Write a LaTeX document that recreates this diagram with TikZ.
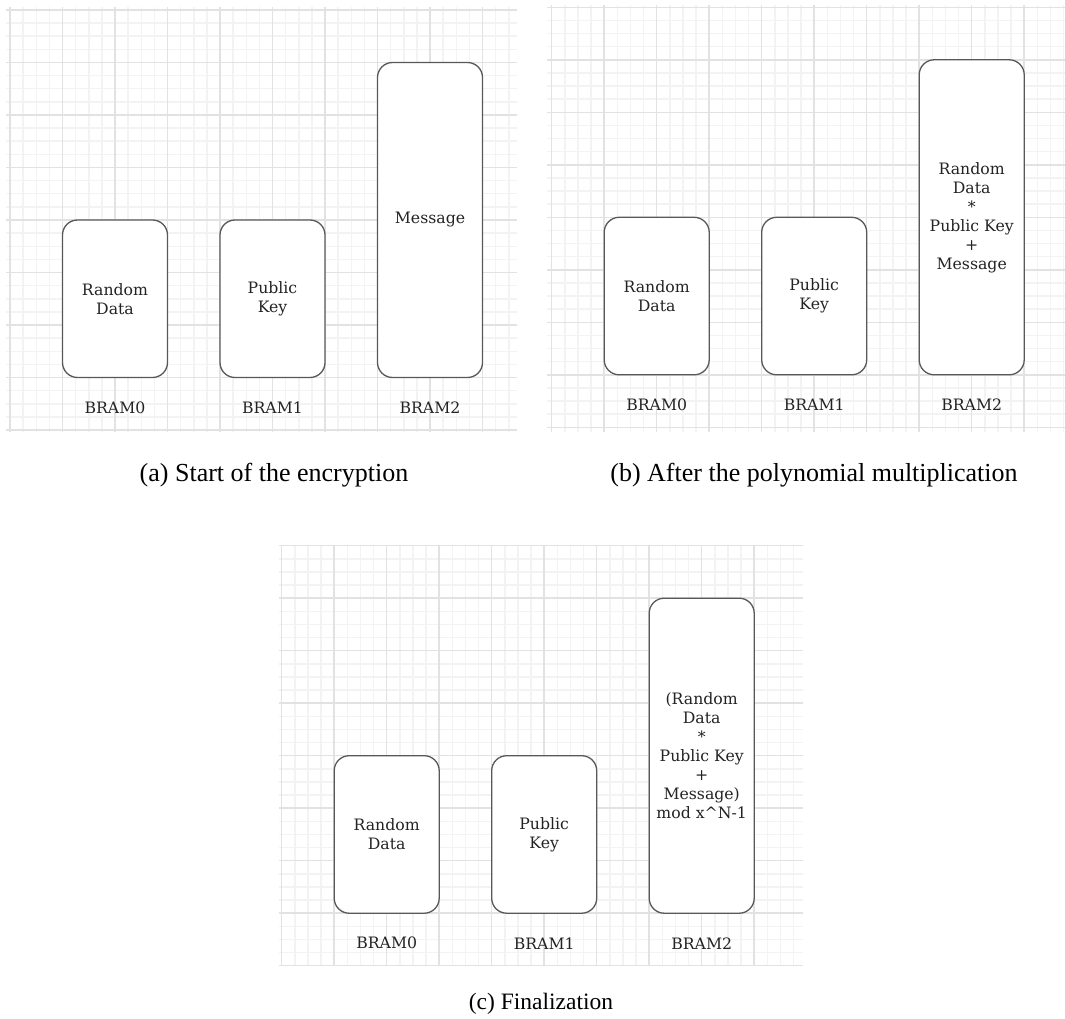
\documentclass[tikz,border=0pt]{standalone}
\usepackage{fontspec}
\setmainfont{Liberation Serif}
\newfontfamily\ramfont{DejaVu Serif}
\definecolor{gridMajor}{RGB}{226,226,226}
\definecolor{gridMinor}{RGB}{243,243,243}
\definecolor{ramEdge}{RGB}{88,88,88}
\definecolor{ramText}{RGB}{35,35,35}

\tikzset{
  minorgrid/.style={gridMinor, line width=1.5pt},
  majorgrid/.style={gridMajor, line width=1.5pt},
  rambox/.style={draw=ramEdge, fill=white, line width=1.3pt, rounded corners=15pt,
    minimum width=105pt, inner sep=0pt, align=center, text=ramText,
    font=\ramfont\fontsize{15.7}{19}\selectfont},
  ramlabel/.style={inner sep=0pt, text=ramText, font=\ramfont\fontsize{15.7}{19}\selectfont},
  subcap/.style={inner sep=0pt, anchor=base, font=\fontsize{26}{30}\selectfont}
}

% #1 name, #2/#3 grid origin, #4..#7 grid extent, #8 last minor column, #9 BRAM2 content
\newcommand{\rampanel}[9]{
  \foreach \i in {0,...,#8}
    \draw[minorgrid] (#2+\i*13.125,#5) -- (#2+\i*13.125,#7);
  \foreach \j in {0,...,32}
    \draw[minorgrid] (#4,#3+\j*13.125) -- (#6,#3+\j*13.125);
  \foreach \i in {0,4,...,#8}
    \draw[majorgrid] (#2+\i*13.125,#5) -- (#2+\i*13.125,#7);
  \foreach \j in {0,4,...,32}
    \draw[majorgrid] (#4,#3+\j*13.125) -- (#6,#3+\j*13.125);

  \node[rambox, minimum height=157.5pt] (#1-b0) at (#2+105,#3+288.75) {Random\\Data};
  \node[rambox, minimum height=157.5pt] (#1-b1) at (#2+262.5,#3+288.75) {Public\\Key};
  \node[rambox, minimum height=315pt] (#1-b2) at (#2+420,#3+210) {#9};

  \node[ramlabel] (#1-l0) at (#2+105,#3+397.5) {BRAM0};
  \node[ramlabel] (#1-l1) at (#2+262.5,#3+397.5) {BRAM1};
  \node[ramlabel] (#1-l2) at (#2+420,#3+397.5) {BRAM2};
}

\begin{document}
\begin{tikzpicture}[x=1pt, y=-1pt]
  \useasboundingbox (0,0) rectangle (1065,1019);
  \fill[white] (0,0) rectangle (1065,1019);

  \rampanel{a}{10}{10}{6}{7}{517}{432}{38}{Message}
  \rampanel{b}{551.7}{7.3}{547}{5}{1065}{431.5}{39}{Random\\Data\\*\\Public Key\\+\\Message}
  \rampanel{c}{281.7}{545.7}{279}{545}{803}{966}{39}{(Random\\Data\\*\\Public Key\\+\\Message)\\mod x\textasciicircum N-1}

  \node[subcap] (cap-a) at (274,481) {(a) Start of the encryption};
  \node[subcap] (cap-b) at (814,481) {(b) After the polynomial multiplication};
  \node[subcap, font=\fontsize{23.5}{28}\selectfont] (cap-c) at (541,1009) {(c) Finalization};
\end{tikzpicture}
\end{document}
